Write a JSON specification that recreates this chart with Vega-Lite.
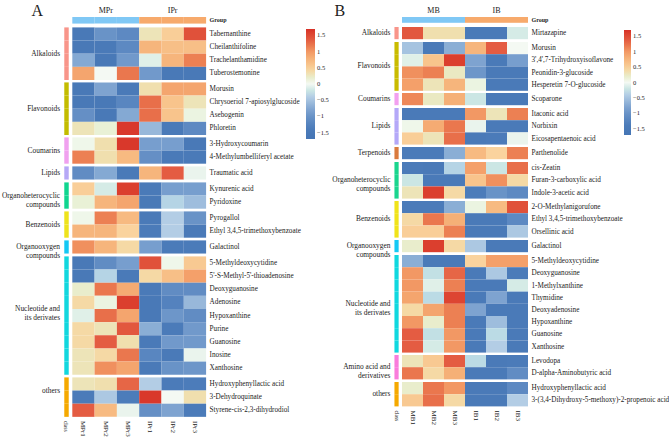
{
 "$schema": "https://vega.github.io/schema/vega-lite/v6.json",
 "padding": {"left": 1, "top": 2, "right": 0, "bottom": 0},
 "background": "white",
 "config": {"view": {"stroke": null}, "font": "Liberation Serif", "axis": {"labelFont": "Liberation Serif", "labelColor": "#222", "titleFont": "Liberation Serif", "titleColor": "#222"}, "legend": {"labelFont": "Liberation Serif", "labelColor": "#222"}, "title": {"font": "Liberation Serif", "color": "#222"}, "text": {"font": "Liberation Serif", "color": "#222"}},
 "datasets": {
  "ga": [{"s":"MPr1","g":"MPr"},{"s":"MPr2","g":"MPr"},{"s":"MPr3","g":"MPr"},{"s":"IPr1","g":"IPr"},{"s":"IPr2","g":"IPr"},{"s":"IPr3","g":"IPr"}],
  "gb": [{"s":"MB1","g":"MB"},{"s":"MB2","g":"MB"},{"s":"MB3","g":"MB"},{"s":"IB1","g":"IB"},{"s":"IB2","g":"IB"},{"s":"IB3","g":"IB"}],
  "a": [
{"c":"Alkaloids","m":"Tabernanthine","s":"MPr1","v":-1.5},{"c":"Alkaloids","m":"Tabernanthine","s":"MPr2","v":-1.0},{"c":"Alkaloids","m":"Tabernanthine","s":"MPr3","v":-1.15},{"c":"Alkaloids","m":"Tabernanthine","s":"IPr1","v":0.3},{"c":"Alkaloids","m":"Tabernanthine","s":"IPr2","v":0.5},{"c":"Alkaloids","m":"Tabernanthine","s":"IPr3","v":1.45},
{"c":"Alkaloids","m":"Cheilanthifoline","s":"MPr1","v":-1.5},{"c":"Alkaloids","m":"Cheilanthifoline","s":"MPr2","v":-1.45},{"c":"Alkaloids","m":"Cheilanthifoline","s":"MPr3","v":-1.15},{"c":"Alkaloids","m":"Cheilanthifoline","s":"IPr1","v":0.75},{"c":"Alkaloids","m":"Cheilanthifoline","s":"IPr2","v":0.65},{"c":"Alkaloids","m":"Cheilanthifoline","s":"IPr3","v":0.65},
{"c":"Alkaloids","m":"Trachelanthamidine","s":"MPr1","v":-0.75},{"c":"Alkaloids","m":"Trachelanthamidine","s":"MPr2","v":-1.5},{"c":"Alkaloids","m":"Trachelanthamidine","s":"MPr3","v":-0.9},{"c":"Alkaloids","m":"Trachelanthamidine","s":"IPr1","v":-0.1},{"c":"Alkaloids","m":"Trachelanthamidine","s":"IPr2","v":0.75},{"c":"Alkaloids","m":"Trachelanthamidine","s":"IPr3","v":1.15},
{"c":"Alkaloids","m":"Tuberostemonine","s":"MPr1","v":0.9},{"c":"Alkaloids","m":"Tuberostemonine","s":"MPr2","v":0.0},{"c":"Alkaloids","m":"Tuberostemonine","s":"MPr3","v":1.2},{"c":"Alkaloids","m":"Tuberostemonine","s":"IPr1","v":-0.9},{"c":"Alkaloids","m":"Tuberostemonine","s":"IPr2","v":-1.5},{"c":"Alkaloids","m":"Tuberostemonine","s":"IPr3","v":-1.5},
{"c":"Flavonoids","m":"Morusin","s":"MPr1","v":-1.5},{"c":"Flavonoids","m":"Morusin","s":"MPr2","v":-0.8},{"c":"Flavonoids","m":"Morusin","s":"MPr3","v":-1.45},{"c":"Flavonoids","m":"Morusin","s":"IPr1","v":0.35},{"c":"Flavonoids","m":"Morusin","s":"IPr2","v":0.9},{"c":"Flavonoids","m":"Morusin","s":"IPr3","v":0.9},
{"c":"Flavonoids","m":"Chrysoeriol 7-apiosylglucoside","s":"MPr1","v":-1.5},{"c":"Flavonoids","m":"Chrysoeriol 7-apiosylglucoside","s":"MPr2","v":-1.5},{"c":"Flavonoids","m":"Chrysoeriol 7-apiosylglucoside","s":"MPr3","v":-1.2},{"c":"Flavonoids","m":"Chrysoeriol 7-apiosylglucoside","s":"IPr1","v":1.25},{"c":"Flavonoids","m":"Chrysoeriol 7-apiosylglucoside","s":"IPr2","v":0.6},{"c":"Flavonoids","m":"Chrysoeriol 7-apiosylglucoside","s":"IPr3","v":0.3},
{"c":"Flavonoids","m":"Asebogenin","s":"MPr1","v":-1.05},{"c":"Flavonoids","m":"Asebogenin","s":"MPr2","v":-1.5},{"c":"Flavonoids","m":"Asebogenin","s":"MPr3","v":-0.75},{"c":"Flavonoids","m":"Asebogenin","s":"IPr1","v":1.25},{"c":"Flavonoids","m":"Asebogenin","s":"IPr2","v":0.6},{"c":"Flavonoids","m":"Asebogenin","s":"IPr3","v":0.1},
{"c":"Flavonoids","m":"Phloretin","s":"MPr1","v":0.3},{"c":"Flavonoids","m":"Phloretin","s":"MPr2","v":0.15},{"c":"Flavonoids","m":"Phloretin","s":"MPr3","v":1.65},{"c":"Flavonoids","m":"Phloretin","s":"IPr1","v":-0.6},{"c":"Flavonoids","m":"Phloretin","s":"IPr2","v":-1.45},{"c":"Flavonoids","m":"Phloretin","s":"IPr3","v":-1.15},
{"c":"Coumarins","m":"3-Hydroxycoumarin","s":"MPr1","v":0.05},{"c":"Coumarins","m":"3-Hydroxycoumarin","s":"MPr2","v":0.35},{"c":"Coumarins","m":"3-Hydroxycoumarin","s":"MPr3","v":1.65},{"c":"Coumarins","m":"3-Hydroxycoumarin","s":"IPr1","v":-0.85},{"c":"Coumarins","m":"3-Hydroxycoumarin","s":"IPr2","v":-0.85},{"c":"Coumarins","m":"3-Hydroxycoumarin","s":"IPr3","v":-1.5},
{"c":"Coumarins","m":"4-Methylumbelliferyl acetate","s":"MPr1","v":1.15},{"c":"Coumarins","m":"4-Methylumbelliferyl acetate","s":"MPr2","v":0.35},{"c":"Coumarins","m":"4-Methylumbelliferyl acetate","s":"MPr3","v":0.7},{"c":"Coumarins","m":"4-Methylumbelliferyl acetate","s":"IPr1","v":-1.05},{"c":"Coumarins","m":"4-Methylumbelliferyl acetate","s":"IPr2","v":-1.45},{"c":"Coumarins","m":"4-Methylumbelliferyl acetate","s":"IPr3","v":-1.45},
{"c":"Lipids","m":"Traumatic acid","s":"MPr1","v":-1.1},{"c":"Lipids","m":"Traumatic acid","s":"MPr2","v":-0.75},{"c":"Lipids","m":"Traumatic acid","s":"MPr3","v":-1.45},{"c":"Lipids","m":"Traumatic acid","s":"IPr1","v":0.75},{"c":"Lipids","m":"Traumatic acid","s":"IPr2","v":1.35},{"c":"Lipids","m":"Traumatic acid","s":"IPr3","v":-0.05},
{"c":"Organoheterocyclic|compounds","m":"Kynurenic acid","s":"MPr1","v":0.5},{"c":"Organoheterocyclic|compounds","m":"Kynurenic acid","s":"MPr2","v":-0.15},{"c":"Organoheterocyclic|compounds","m":"Kynurenic acid","s":"MPr3","v":1.6},{"c":"Organoheterocyclic|compounds","m":"Kynurenic acid","s":"IPr1","v":-1.45},{"c":"Organoheterocyclic|compounds","m":"Kynurenic acid","s":"IPr2","v":-0.85},{"c":"Organoheterocyclic|compounds","m":"Kynurenic acid","s":"IPr3","v":-0.85},
{"c":"Organoheterocyclic|compounds","m":"Pyridoxine","s":"MPr1","v":0.15},{"c":"Organoheterocyclic|compounds","m":"Pyridoxine","s":"MPr2","v":0.75},{"c":"Organoheterocyclic|compounds","m":"Pyridoxine","s":"MPr3","v":0.9},{"c":"Organoheterocyclic|compounds","m":"Pyridoxine","s":"IPr1","v":-1.5},{"c":"Organoheterocyclic|compounds","m":"Pyridoxine","s":"IPr2","v":-0.35},{"c":"Organoheterocyclic|compounds","m":"Pyridoxine","s":"IPr3","v":-0.55},
{"c":"Benzenoids","m":"Pyrogallol","s":"MPr1","v":0.05},{"c":"Benzenoids","m":"Pyrogallol","s":"MPr2","v":1.15},{"c":"Benzenoids","m":"Pyrogallol","s":"MPr3","v":0.7},{"c":"Benzenoids","m":"Pyrogallol","s":"IPr1","v":-1.45},{"c":"Benzenoids","m":"Pyrogallol","s":"IPr2","v":-0.4},{"c":"Benzenoids","m":"Pyrogallol","s":"IPr3","v":-1.0},
{"c":"Benzenoids","m":"Ethyl 3,4,5-trimethoxybenzoate","s":"MPr1","v":0.75},{"c":"Benzenoids","m":"Ethyl 3,4,5-trimethoxybenzoate","s":"MPr2","v":0.75},{"c":"Benzenoids","m":"Ethyl 3,4,5-trimethoxybenzoate","s":"MPr3","v":0.45},{"c":"Benzenoids","m":"Ethyl 3,4,5-trimethoxybenzoate","s":"IPr1","v":-1.4},{"c":"Benzenoids","m":"Ethyl 3,4,5-trimethoxybenzoate","s":"IPr2","v":-0.4},{"c":"Benzenoids","m":"Ethyl 3,4,5-trimethoxybenzoate","s":"IPr3","v":-1.45},
{"c":"Organooxygen|compounds","m":"Galactinol","s":"MPr1","v":1.05},{"c":"Organooxygen|compounds","m":"Galactinol","s":"MPr2","v":0.75},{"c":"Organooxygen|compounds","m":"Galactinol","s":"MPr3","v":0.4},{"c":"Organooxygen|compounds","m":"Galactinol","s":"IPr1","v":-0.85},{"c":"Organooxygen|compounds","m":"Galactinol","s":"IPr2","v":-1.4},{"c":"Organooxygen|compounds","m":"Galactinol","s":"IPr3","v":-1.4},
{"c":"Nucleotide and|its derivates","m":"5-Methyldeoxycytidine","s":"MPr1","v":-1.5},{"c":"Nucleotide and|its derivates","m":"5-Methyldeoxycytidine","s":"MPr2","v":-1.1},{"c":"Nucleotide and|its derivates","m":"5-Methyldeoxycytidine","s":"MPr3","v":-0.85},{"c":"Nucleotide and|its derivates","m":"5-Methyldeoxycytidine","s":"IPr1","v":1.45},{"c":"Nucleotide and|its derivates","m":"5-Methyldeoxycytidine","s":"IPr2","v":0.05},{"c":"Nucleotide and|its derivates","m":"5-Methyldeoxycytidine","s":"IPr3","v":0.55},
{"c":"Nucleotide and|its derivates","m":"5'-S-Methyl-5'-thioadenosine","s":"MPr1","v":-1.5},{"c":"Nucleotide and|its derivates","m":"5'-S-Methyl-5'-thioadenosine","s":"MPr2","v":-0.35},{"c":"Nucleotide and|its derivates","m":"5'-S-Methyl-5'-thioadenosine","s":"MPr3","v":-1.45},{"c":"Nucleotide and|its derivates","m":"5'-S-Methyl-5'-thioadenosine","s":"IPr1","v":0.4},{"c":"Nucleotide and|its derivates","m":"5'-S-Methyl-5'-thioadenosine","s":"IPr2","v":0.65},{"c":"Nucleotide and|its derivates","m":"5'-S-Methyl-5'-thioadenosine","s":"IPr3","v":0.95},
{"c":"Nucleotide and|its derivates","m":"Deoxyguanosine","s":"MPr1","v":0.2},{"c":"Nucleotide and|its derivates","m":"Deoxyguanosine","s":"MPr2","v":1.2},{"c":"Nucleotide and|its derivates","m":"Deoxyguanosine","s":"MPr3","v":0.85},{"c":"Nucleotide and|its derivates","m":"Deoxyguanosine","s":"IPr1","v":-1.45},{"c":"Nucleotide and|its derivates","m":"Deoxyguanosine","s":"IPr2","v":-1.1},{"c":"Nucleotide and|its derivates","m":"Deoxyguanosine","s":"IPr3","v":-1.1},
{"c":"Nucleotide and|its derivates","m":"Adenosine","s":"MPr1","v":0.4},{"c":"Nucleotide and|its derivates","m":"Adenosine","s":"MPr2","v":0.1},{"c":"Nucleotide and|its derivates","m":"Adenosine","s":"MPr3","v":1.6},{"c":"Nucleotide and|its derivates","m":"Adenosine","s":"IPr1","v":-1.5},{"c":"Nucleotide and|its derivates","m":"Adenosine","s":"IPr2","v":-1.25},{"c":"Nucleotide and|its derivates","m":"Adenosine","s":"IPr3","v":-0.6},
{"c":"Nucleotide and|its derivates","m":"Hypoxanthine","s":"MPr1","v":-0.1},{"c":"Nucleotide and|its derivates","m":"Hypoxanthine","s":"MPr2","v":1.25},{"c":"Nucleotide and|its derivates","m":"Hypoxanthine","s":"MPr3","v":0.9},{"c":"Nucleotide and|its derivates","m":"Hypoxanthine","s":"IPr1","v":-1.5},{"c":"Nucleotide and|its derivates","m":"Hypoxanthine","s":"IPr2","v":-0.95},{"c":"Nucleotide and|its derivates","m":"Hypoxanthine","s":"IPr3","v":-1.1},
{"c":"Nucleotide and|its derivates","m":"Purine","s":"MPr1","v":0.4},{"c":"Nucleotide and|its derivates","m":"Purine","s":"MPr2","v":0.3},{"c":"Nucleotide and|its derivates","m":"Purine","s":"MPr3","v":1.4},{"c":"Nucleotide and|its derivates","m":"Purine","s":"IPr1","v":-0.7},{"c":"Nucleotide and|its derivates","m":"Purine","s":"IPr2","v":-1.4},{"c":"Nucleotide and|its derivates","m":"Purine","s":"IPr3","v":-0.9},
{"c":"Nucleotide and|its derivates","m":"Guanosine","s":"MPr1","v":0.4},{"c":"Nucleotide and|its derivates","m":"Guanosine","s":"MPr2","v":1.35},{"c":"Nucleotide and|its derivates","m":"Guanosine","s":"MPr3","v":0.35},{"c":"Nucleotide and|its derivates","m":"Guanosine","s":"IPr1","v":-1.45},{"c":"Nucleotide and|its derivates","m":"Guanosine","s":"IPr2","v":-0.9},{"c":"Nucleotide and|its derivates","m":"Guanosine","s":"IPr3","v":-0.9},
{"c":"Nucleotide and|its derivates","m":"Inosine","s":"MPr1","v":0.3},{"c":"Nucleotide and|its derivates","m":"Inosine","s":"MPr2","v":0.4},{"c":"Nucleotide and|its derivates","m":"Inosine","s":"MPr3","v":1.2},{"c":"Nucleotide and|its derivates","m":"Inosine","s":"IPr1","v":-1.2},{"c":"Nucleotide and|its derivates","m":"Inosine","s":"IPr2","v":-1.45},{"c":"Nucleotide and|its derivates","m":"Inosine","s":"IPr3","v":-0.05},
{"c":"Nucleotide and|its derivates","m":"Xanthosine","s":"MPr1","v":0.3},{"c":"Nucleotide and|its derivates","m":"Xanthosine","s":"MPr2","v":1.05},{"c":"Nucleotide and|its derivates","m":"Xanthosine","s":"MPr3","v":0.9},{"c":"Nucleotide and|its derivates","m":"Xanthosine","s":"IPr1","v":-1.45},{"c":"Nucleotide and|its derivates","m":"Xanthosine","s":"IPr2","v":-1.0},{"c":"Nucleotide and|its derivates","m":"Xanthosine","s":"IPr3","v":-0.95},
{"c":"others","m":"Hydroxyphenyllactic acid","s":"MPr1","v":0.3},{"c":"others","m":"Hydroxyphenyllactic acid","s":"MPr2","v":0.35},{"c":"others","m":"Hydroxyphenyllactic acid","s":"MPr3","v":1.3},{"c":"others","m":"Hydroxyphenyllactic acid","s":"IPr1","v":-0.4},{"c":"others","m":"Hydroxyphenyllactic acid","s":"IPr2","v":-1.4},{"c":"others","m":"Hydroxyphenyllactic acid","s":"IPr3","v":-1.35},
{"c":"others","m":"3-Dehydroquinate","s":"MPr1","v":-1.4},{"c":"others","m":"3-Dehydroquinate","s":"MPr2","v":-0.45},{"c":"others","m":"3-Dehydroquinate","s":"MPr3","v":-1.35},{"c":"others","m":"3-Dehydroquinate","s":"IPr1","v":1.65},{"c":"others","m":"3-Dehydroquinate","s":"IPr2","v":0.0},{"c":"others","m":"3-Dehydroquinate","s":"IPr3","v":0.35},
{"c":"others","m":"Styrene-cis-2,3-dihydrodiol","s":"MPr1","v":1.35},{"c":"others","m":"Styrene-cis-2,3-dihydrodiol","s":"MPr2","v":0.7},{"c":"others","m":"Styrene-cis-2,3-dihydrodiol","s":"MPr3","v":-0.05},{"c":"others","m":"Styrene-cis-2,3-dihydrodiol","s":"IPr1","v":-1.05},{"c":"others","m":"Styrene-cis-2,3-dihydrodiol","s":"IPr2","v":-0.8},{"c":"others","m":"Styrene-cis-2,3-dihydrodiol","s":"IPr3","v":-1.4}
  ],
  "b": [
{"c":"Alkaloids","m":"Mirtazapine","s":"MB1","v":1.4},{"c":"Alkaloids","m":"Mirtazapine","s":"MB2","v":0.35},{"c":"Alkaloids","m":"Mirtazapine","s":"MB3","v":0.35},{"c":"Alkaloids","m":"Mirtazapine","s":"IB1","v":-1.45},{"c":"Alkaloids","m":"Mirtazapine","s":"IB2","v":-1.45},{"c":"Alkaloids","m":"Mirtazapine","s":"IB3","v":-0.15},
{"c":"Flavonoids","m":"Morusin","s":"MB1","v":-0.5},{"c":"Flavonoids","m":"Morusin","s":"MB2","v":-1.45},{"c":"Flavonoids","m":"Morusin","s":"MB3","v":-0.7},{"c":"Flavonoids","m":"Morusin","s":"IB1","v":0.75},{"c":"Flavonoids","m":"Morusin","s":"IB2","v":1.35},{"c":"Flavonoids","m":"Morusin","s":"IB3","v":0.0},
{"c":"Flavonoids","m":"3',4',7-Trihydroxyisoflavone","s":"MB1","v":-0.1},{"c":"Flavonoids","m":"3',4',7-Trihydroxyisoflavone","s":"MB2","v":0.6},{"c":"Flavonoids","m":"3',4',7-Trihydroxyisoflavone","s":"MB3","v":1.6},{"c":"Flavonoids","m":"3',4',7-Trihydroxyisoflavone","s":"IB1","v":-0.8},{"c":"Flavonoids","m":"3',4',7-Trihydroxyisoflavone","s":"IB2","v":-1.45},{"c":"Flavonoids","m":"3',4',7-Trihydroxyisoflavone","s":"IB3","v":-0.85},
{"c":"Flavonoids","m":"Peonidin-3-glucoside","s":"MB1","v":1.05},{"c":"Flavonoids","m":"Peonidin-3-glucoside","s":"MB2","v":1.15},{"c":"Flavonoids","m":"Peonidin-3-glucoside","s":"MB3","v":0.25},{"c":"Flavonoids","m":"Peonidin-3-glucoside","s":"IB1","v":-0.95},{"c":"Flavonoids","m":"Peonidin-3-glucoside","s":"IB2","v":-1.45},{"c":"Flavonoids","m":"Peonidin-3-glucoside","s":"IB3","v":-1.45},
{"c":"Flavonoids","m":"Hesperetin 7-O-glucoside","s":"MB1","v":0.95},{"c":"Flavonoids","m":"Hesperetin 7-O-glucoside","s":"MB2","v":0.3},{"c":"Flavonoids","m":"Hesperetin 7-O-glucoside","s":"MB3","v":0.75},{"c":"Flavonoids","m":"Hesperetin 7-O-glucoside","s":"IB1","v":0.1},{"c":"Flavonoids","m":"Hesperetin 7-O-glucoside","s":"IB2","v":-1.45},{"c":"Flavonoids","m":"Hesperetin 7-O-glucoside","s":"IB3","v":-1.45},
{"c":"Coumarins","m":"Scoparone","s":"MB1","v":1.1},{"c":"Coumarins","m":"Scoparone","s":"MB2","v":0.25},{"c":"Coumarins","m":"Scoparone","s":"MB3","v":0.8},{"c":"Coumarins","m":"Scoparone","s":"IB1","v":-0.2},{"c":"Coumarins","m":"Scoparone","s":"IB2","v":-1.45},{"c":"Coumarins","m":"Scoparone","s":"IB3","v":-1.45},
{"c":"Lipids","m":"Itaconic acid","s":"MB1","v":-1.45},{"c":"Lipids","m":"Itaconic acid","s":"MB2","v":-1.45},{"c":"Lipids","m":"Itaconic acid","s":"MB3","v":-1.45},{"c":"Lipids","m":"Itaconic acid","s":"IB1","v":1.0},{"c":"Lipids","m":"Itaconic acid","s":"IB2","v":0.3},{"c":"Lipids","m":"Itaconic acid","s":"IB3","v":1.15},
{"c":"Lipids","m":"Norbixin","s":"MB1","v":0.05},{"c":"Lipids","m":"Norbixin","s":"MB2","v":0.85},{"c":"Lipids","m":"Norbixin","s":"MB3","v":1.2},{"c":"Lipids","m":"Norbixin","s":"IB1","v":-0.05},{"c":"Lipids","m":"Norbixin","s":"IB2","v":-1.45},{"c":"Lipids","m":"Norbixin","s":"IB3","v":-1.45},
{"c":"Lipids","m":"Eicosapentaenoic acid","s":"MB1","v":0.5},{"c":"Lipids","m":"Eicosapentaenoic acid","s":"MB2","v":0.3},{"c":"Lipids","m":"Eicosapentaenoic acid","s":"MB3","v":1.25},{"c":"Lipids","m":"Eicosapentaenoic acid","s":"IB1","v":-1.45},{"c":"Lipids","m":"Eicosapentaenoic acid","s":"IB2","v":-1.4},{"c":"Lipids","m":"Eicosapentaenoic acid","s":"IB3","v":-0.05},
{"c":"Terpenoids","m":"Parthenolide","s":"MB1","v":-1.4},{"c":"Terpenoids","m":"Parthenolide","s":"MB2","v":-1.4},{"c":"Terpenoids","m":"Parthenolide","s":"MB3","v":-0.7},{"c":"Terpenoids","m":"Parthenolide","s":"IB1","v":0.7},{"c":"Terpenoids","m":"Parthenolide","s":"IB2","v":0.45},{"c":"Terpenoids","m":"Parthenolide","s":"IB3","v":1.15},
{"c":"Organoheterocyclic|compounds","m":"cis-Zeatin","s":"MB1","v":-1.4},{"c":"Organoheterocyclic|compounds","m":"cis-Zeatin","s":"MB2","v":-1.45},{"c":"Organoheterocyclic|compounds","m":"cis-Zeatin","s":"MB3","v":-0.35},{"c":"Organoheterocyclic|compounds","m":"cis-Zeatin","s":"IB1","v":0.95},{"c":"Organoheterocyclic|compounds","m":"cis-Zeatin","s":"IB2","v":-0.2},{"c":"Organoheterocyclic|compounds","m":"cis-Zeatin","s":"IB3","v":1.25},
{"c":"Organoheterocyclic|compounds","m":"Furan-3-carboxylic acid","s":"MB1","v":-0.2},{"c":"Organoheterocyclic|compounds","m":"Furan-3-carboxylic acid","s":"MB2","v":-1.45},{"c":"Organoheterocyclic|compounds","m":"Furan-3-carboxylic acid","s":"MB3","v":-1.45},{"c":"Organoheterocyclic|compounds","m":"Furan-3-carboxylic acid","s":"IB1","v":0.6},{"c":"Organoheterocyclic|compounds","m":"Furan-3-carboxylic acid","s":"IB2","v":1.05},{"c":"Organoheterocyclic|compounds","m":"Furan-3-carboxylic acid","s":"IB3","v":0.4},
{"c":"Organoheterocyclic|compounds","m":"Indole-3-acetic acid","s":"MB1","v":0.3},{"c":"Organoheterocyclic|compounds","m":"Indole-3-acetic acid","s":"MB2","v":1.6},{"c":"Organoheterocyclic|compounds","m":"Indole-3-acetic acid","s":"MB3","v":0.4},{"c":"Organoheterocyclic|compounds","m":"Indole-3-acetic acid","s":"IB1","v":-1.35},{"c":"Organoheterocyclic|compounds","m":"Indole-3-acetic acid","s":"IB2","v":-1.0},{"c":"Organoheterocyclic|compounds","m":"Indole-3-acetic acid","s":"IB3","v":-1.15},
{"c":"Benzenoids","m":"2-O-Methylanigorufone","s":"MB1","v":-1.4},{"c":"Benzenoids","m":"2-O-Methylanigorufone","s":"MB2","v":-1.4},{"c":"Benzenoids","m":"2-O-Methylanigorufone","s":"MB3","v":-0.7},{"c":"Benzenoids","m":"2-O-Methylanigorufone","s":"IB1","v":0.1},{"c":"Benzenoids","m":"2-O-Methylanigorufone","s":"IB2","v":0.7},{"c":"Benzenoids","m":"2-O-Methylanigorufone","s":"IB3","v":1.45},
{"c":"Benzenoids","m":"Ethyl 3,4,5-trimethoxybenzoate","s":"MB1","v":0.4},{"c":"Benzenoids","m":"Ethyl 3,4,5-trimethoxybenzoate","s":"MB2","v":1.2},{"c":"Benzenoids","m":"Ethyl 3,4,5-trimethoxybenzoate","s":"MB3","v":0.8},{"c":"Benzenoids","m":"Ethyl 3,4,5-trimethoxybenzoate","s":"IB1","v":-1.45},{"c":"Benzenoids","m":"Ethyl 3,4,5-trimethoxybenzoate","s":"IB2","v":-1.45},{"c":"Benzenoids","m":"Ethyl 3,4,5-trimethoxybenzoate","s":"IB3","v":-1.15},
{"c":"Benzenoids","m":"Orsellinic acid","s":"MB1","v":0.5},{"c":"Benzenoids","m":"Orsellinic acid","s":"MB2","v":0.5},{"c":"Benzenoids","m":"Orsellinic acid","s":"MB3","v":1.15},{"c":"Benzenoids","m":"Orsellinic acid","s":"IB1","v":-1.45},{"c":"Benzenoids","m":"Orsellinic acid","s":"IB2","v":-1.45},{"c":"Benzenoids","m":"Orsellinic acid","s":"IB3","v":-0.45},
{"c":"Organooxygen|compounds","m":"Galactinol","s":"MB1","v":0.2},{"c":"Organooxygen|compounds","m":"Galactinol","s":"MB2","v":1.6},{"c":"Organooxygen|compounds","m":"Galactinol","s":"MB3","v":0.4},{"c":"Organooxygen|compounds","m":"Galactinol","s":"IB1","v":-0.45},{"c":"Organooxygen|compounds","m":"Galactinol","s":"IB2","v":-1.45},{"c":"Organooxygen|compounds","m":"Galactinol","s":"IB3","v":-1.45},
{"c":"Nucleotide and|its derivates","m":"5-Methyldeoxycytidine","s":"MB1","v":-0.7},{"c":"Nucleotide and|its derivates","m":"5-Methyldeoxycytidine","s":"MB2","v":-1.45},{"c":"Nucleotide and|its derivates","m":"5-Methyldeoxycytidine","s":"MB3","v":-1.45},{"c":"Nucleotide and|its derivates","m":"5-Methyldeoxycytidine","s":"IB1","v":0.45},{"c":"Nucleotide and|its derivates","m":"5-Methyldeoxycytidine","s":"IB2","v":0.95},{"c":"Nucleotide and|its derivates","m":"5-Methyldeoxycytidine","s":"IB3","v":0.95},
{"c":"Nucleotide and|its derivates","m":"Deoxyguanosine","s":"MB1","v":1.0},{"c":"Nucleotide and|its derivates","m":"Deoxyguanosine","s":"MB2","v":-0.25},{"c":"Nucleotide and|its derivates","m":"Deoxyguanosine","s":"MB3","v":1.3},{"c":"Nucleotide and|its derivates","m":"Deoxyguanosine","s":"IB1","v":-1.45},{"c":"Nucleotide and|its derivates","m":"Deoxyguanosine","s":"IB2","v":-0.45},{"c":"Nucleotide and|its derivates","m":"Deoxyguanosine","s":"IB3","v":-1.4},
{"c":"Nucleotide and|its derivates","m":"1-Methylxanthine","s":"MB1","v":1.0},{"c":"Nucleotide and|its derivates","m":"1-Methylxanthine","s":"MB2","v":-0.1},{"c":"Nucleotide and|its derivates","m":"1-Methylxanthine","s":"MB3","v":1.15},{"c":"Nucleotide and|its derivates","m":"1-Methylxanthine","s":"IB1","v":-1.45},{"c":"Nucleotide and|its derivates","m":"1-Methylxanthine","s":"IB2","v":-1.45},{"c":"Nucleotide and|its derivates","m":"1-Methylxanthine","s":"IB3","v":-0.15},
{"c":"Nucleotide and|its derivates","m":"Thymidine","s":"MB1","v":0.9},{"c":"Nucleotide and|its derivates","m":"Thymidine","s":"MB2","v":-0.3},{"c":"Nucleotide and|its derivates","m":"Thymidine","s":"MB3","v":1.55},{"c":"Nucleotide and|its derivates","m":"Thymidine","s":"IB1","v":-1.45},{"c":"Nucleotide and|its derivates","m":"Thymidine","s":"IB2","v":-0.8},{"c":"Nucleotide and|its derivates","m":"Thymidine","s":"IB3","v":-1.45},
{"c":"Nucleotide and|its derivates","m":"Deoxyadenosine","s":"MB1","v":0.4},{"c":"Nucleotide and|its derivates","m":"Deoxyadenosine","s":"MB2","v":0.9},{"c":"Nucleotide and|its derivates","m":"Deoxyadenosine","s":"MB3","v":1.15},{"c":"Nucleotide and|its derivates","m":"Deoxyadenosine","s":"IB1","v":-0.8},{"c":"Nucleotide and|its derivates","m":"Deoxyadenosine","s":"IB2","v":-1.45},{"c":"Nucleotide and|its derivates","m":"Deoxyadenosine","s":"IB3","v":-1.45},
{"c":"Nucleotide and|its derivates","m":"Hypoxanthine","s":"MB1","v":1.0},{"c":"Nucleotide and|its derivates","m":"Hypoxanthine","s":"MB2","v":0.2},{"c":"Nucleotide and|its derivates","m":"Hypoxanthine","s":"MB3","v":1.15},{"c":"Nucleotide and|its derivates","m":"Hypoxanthine","s":"IB1","v":-1.45},{"c":"Nucleotide and|its derivates","m":"Hypoxanthine","s":"IB2","v":-0.55},{"c":"Nucleotide and|its derivates","m":"Hypoxanthine","s":"IB3","v":-1.45},
{"c":"Nucleotide and|its derivates","m":"Guanosine","s":"MB1","v":1.35},{"c":"Nucleotide and|its derivates","m":"Guanosine","s":"MB2","v":-0.25},{"c":"Nucleotide and|its derivates","m":"Guanosine","s":"MB3","v":1.0},{"c":"Nucleotide and|its derivates","m":"Guanosine","s":"IB1","v":-1.45},{"c":"Nucleotide and|its derivates","m":"Guanosine","s":"IB2","v":-0.3},{"c":"Nucleotide and|its derivates","m":"Guanosine","s":"IB3","v":-1.45},
{"c":"Nucleotide and|its derivates","m":"Xanthosine","s":"MB1","v":1.35},{"c":"Nucleotide and|its derivates","m":"Xanthosine","s":"MB2","v":-0.15},{"c":"Nucleotide and|its derivates","m":"Xanthosine","s":"MB3","v":1.0},{"c":"Nucleotide and|its derivates","m":"Xanthosine","s":"IB1","v":-1.45},{"c":"Nucleotide and|its derivates","m":"Xanthosine","s":"IB2","v":-0.4},{"c":"Nucleotide and|its derivates","m":"Xanthosine","s":"IB3","v":-1.45},
{"c":"Amino acid and|derivatives","m":"Levodopa","s":"MB1","v":0.3},{"c":"Amino acid and|derivatives","m":"Levodopa","s":"MB2","v":0.55},{"c":"Amino acid and|derivatives","m":"Levodopa","s":"MB3","v":1.35},{"c":"Amino acid and|derivatives","m":"Levodopa","s":"IB1","v":-0.3},{"c":"Amino acid and|derivatives","m":"Levodopa","s":"IB2","v":-1.45},{"c":"Amino acid and|derivatives","m":"Levodopa","s":"IB3","v":-1.4},
{"c":"Amino acid and|derivatives","m":"D-alpha-Aminobutyric acid","s":"MB1","v":1.2},{"c":"Amino acid and|derivatives","m":"D-alpha-Aminobutyric acid","s":"MB2","v":0.4},{"c":"Amino acid and|derivatives","m":"D-alpha-Aminobutyric acid","s":"MB3","v":0.8},{"c":"Amino acid and|derivatives","m":"D-alpha-Aminobutyric acid","s":"IB1","v":-1.45},{"c":"Amino acid and|derivatives","m":"D-alpha-Aminobutyric acid","s":"IB2","v":-1.45},{"c":"Amino acid and|derivatives","m":"D-alpha-Aminobutyric acid","s":"IB3","v":-1.1},
{"c":"others","m":"Hydroxyphenyllactic acid","s":"MB1","v":0.2},{"c":"others","m":"Hydroxyphenyllactic acid","s":"MB2","v":1.2},{"c":"others","m":"Hydroxyphenyllactic acid","s":"MB3","v":1.0},{"c":"others","m":"Hydroxyphenyllactic acid","s":"IB1","v":-1.45},{"c":"others","m":"Hydroxyphenyllactic acid","s":"IB2","v":-1.45},{"c":"others","m":"Hydroxyphenyllactic acid","s":"IB3","v":-1.15},
{"c":"others","m":"3-(3,4-Dihydroxy-5-methoxy)-2-propenoic acid","s":"MB1","v":0.55},{"c":"others","m":"3-(3,4-Dihydroxy-5-methoxy)-2-propenoic acid","s":"MB2","v":1.25},{"c":"others","m":"3-(3,4-Dihydroxy-5-methoxy)-2-propenoic acid","s":"MB3","v":0.4},{"c":"others","m":"3-(3,4-Dihydroxy-5-methoxy)-2-propenoic acid","s":"IB1","v":-1.45},{"c":"others","m":"3-(3,4-Dihydroxy-5-methoxy)-2-propenoic acid","s":"IB2","v":-1.45},{"c":"others","m":"3-(3,4-Dihydroxy-5-methoxy)-2-propenoic acid","s":"IB3","v":-0.4}
  ]
 },
 "spacing": 3,
 "resolve": {"scale": {"color": "independent", "fill": "independent"}, "legend": {"color": "independent"}},
 "hconcat": [
  {
   "spacing": 3.4,
   "resolve": {"scale": {"fill": "independent"}},
   "vconcat": [
    {
     "data": {"name": "ga"},
     "width": {"step": 22.3}, "height": 6.6,
     "mark": {"type": "rect"},
     "encoding": {
      "x": {"field": "s", "type": "nominal", "scale": {"type": "band", "domain": ["class","MPr1","MPr2","MPr3","IPr1","IPr2","IPr3"]}, "axis": {"orient": "top", "title": "A", "titleX": -19, "titleY": -2, "titleAlign": "left", "titleBaseline": "alphabetic", "titleAngle": 0, "titleFontSize": 16, "titleFontWeight": "normal", "ticks": false, "domain": false, "labelAngle": 0, "labelPadding": 3, "labelFontSize": 8, "labelExpr": "datum.value == 'MPr2' ? 'MPr' : datum.value == 'IPr2' ? 'IPr' : ''"}},
      "y": {"datum": "Group", "type": "nominal", "axis": {"orient": "right", "title": null, "ticks": false, "domain": false, "labelPadding": 3, "labelFontSize": 6, "labelFontWeight": "bold"}},
      "fill": {"field": "g", "type": "nominal", "scale": {"domain": ["MPr","IPr"], "range": ["#80c8f5","#f7aa6c"]}, "legend": null}
     }
    },
    {
     "data": {"name": "a"},
     "facet": {"row": {"field": "c", "type": "nominal", "sort": ["Alkaloids","Flavonoids","Coumarins","Lipids","Organoheterocyclic|compounds","Benzenoids","Organooxygen|compounds","Nucleotide and|its derivates","others"], "title": null, "header": {"labels": false}}},
     "spacing": {"row": 2},
     "bounds": "flush",
     "resolve": {"scale": {"y": "independent"}},
     "spec": {
      "width": {"step": 22.3}, "height": {"step": 13.15},
      "layer": [
       {
        "mark": {"type": "rect"},
        "encoding": {
         "x": {"field": "s", "type": "nominal", "scale": {"type": "band", "domain": ["class","MPr1","MPr2","MPr3","IPr1","IPr2","IPr3"]}, "axis": {"title": null, "ticks": false, "domain": false, "labelAngle": 90, "labelPadding": 3, "labelFontSize": {"condition": {"test": "datum.value === 'class'", "value": 5.5}, "value": 7}, "labelOffset": {"condition": {"test": "datum.value === 'class'", "value": 5}, "value": 0}}},
         "y": {"field": "m", "type": "nominal", "sort": null, "axis": {"orient": "right", "title": null, "ticks": false, "domain": false, "labelPadding": 3, "labelFontSize": 7.2, "labelLimit": 400}},
         "color": {"field": "v", "type": "quantitative", "scale": {"domain": [-1.7,-1.35,-0.9,-0.4,0,0.45,0.95,1.35,1.7], "range": ["#4575b4","#4c7cba","#7199cb","#b3cde5","#f4f9f3","#fad39e","#f4a06a","#e45c42","#d73027"]}, "legend": {"orient": "none", "legendX": 256, "legendY": 12, "title": null, "direction": "vertical", "gradientLength": 110, "gradientThickness": 9, "values": [-1.5,-1,-0.5,0,0.5,1,1.5], "format": ".1~f", "labelFontSize": 6.5, "labelOverlap": false, "gradientStrokeWidth": 0}}
        }
       },
       {
        "transform": [{"filter": "datum.s == 'MPr1'"}],
        "mark": {"type": "rect"},
        "encoding": {
         "x": {"datum": "class", "bandPosition": 0.64},
         "x2": {"datum": "class", "bandPosition": 0.84},
         "y": {"field": "m", "type": "nominal", "sort": null},
         "fill": {"field": "c", "type": "nominal", "scale": {"domain": ["Alkaloids","Flavonoids","Coumarins","Lipids","Organoheterocyclic|compounds","Benzenoids","Organooxygen|compounds","Nucleotide and|its derivates","others"], "range": ["#f8958a","#c3bc00","#f0a1ef","#b5a8f6","#10d68f","#eee31c","#14c8f4","#12d7de","#f5a900"]}, "legend": null}
        }
       },
       {
        "transform": [{"filter": "datum.s == 'MPr1' && indexof(['Trachelanthamidine','Asebogenin','4-Methylumbelliferyl acetate','Pyridoxine','Ethyl 3,4,5-trimethoxybenzoate','Hypoxanthine','3-Dehydroquinate'], datum.m) >= 0"}],
        "mark": {"type": "text", "align": "right", "baseline": "middle", "fontSize": 7.4, "lineBreak": "|", "lineHeight": 9},
        "encoding": {
         "x": {"datum": "class", "bandPosition": 0.45},
         "y": {"field": "m", "type": "nominal", "sort": null, "bandPosition": 0},
         "text": {"field": "c", "type": "nominal"}
        }
       },
       {
        "transform": [{"filter": "datum.s == 'MPr1' && indexof(['Traumatic acid','Galactinol'], datum.m) >= 0"}],
        "mark": {"type": "text", "align": "right", "baseline": "middle", "fontSize": 7.4, "lineBreak": "|", "lineHeight": 9},
        "encoding": {
         "x": {"datum": "class", "bandPosition": 0.45},
         "y": {"field": "m", "type": "nominal", "sort": null, "bandPosition": 0.5},
         "text": {"field": "c", "type": "nominal"}
        }
       }
      ]
     }
    }
   ]
  },
  {
   "spacing": 4,
   "resolve": {"scale": {"fill": "independent"}},
   "vconcat": [
    {
     "data": {"name": "gb"},
     "width": {"step": 21}, "height": 5.8,
     "mark": {"type": "rect"},
     "encoding": {
      "x": {"field": "s", "type": "nominal", "scale": {"type": "band", "domain": ["class","MB1","MB2","MB3","IB1","IB2","IB3"]}, "axis": {"orient": "top", "title": "B", "titleX": -47, "titleY": -2, "titleAlign": "left", "titleBaseline": "alphabetic", "titleAngle": 0, "titleFontSize": 16, "titleFontWeight": "normal", "ticks": false, "domain": false, "labelAngle": 0, "labelPadding": 3, "labelFontSize": 8, "labelExpr": "datum.value == 'MB2' ? 'MB' : datum.value == 'IB2' ? 'IB' : ''"}},
      "y": {"datum": "Group", "type": "nominal", "axis": {"orient": "right", "title": null, "ticks": false, "domain": false, "labelPadding": 3, "labelFontSize": 6, "labelFontWeight": "bold"}},
      "fill": {"field": "g", "type": "nominal", "scale": {"domain": ["MB","IB"], "range": ["#80c8f5","#f7aa6c"]}, "legend": null}
     }
    },
    {
     "data": {"name": "b"},
     "facet": {"row": {"field": "c", "type": "nominal", "sort": ["Alkaloids","Flavonoids","Coumarins","Lipids","Terpenoids","Organoheterocyclic|compounds","Benzenoids","Organooxygen|compounds","Nucleotide and|its derivates","Amino acid and|derivatives","others"], "title": null, "header": {"labels": false}}},
     "spacing": {"row": 2},
     "bounds": "flush",
     "resolve": {"scale": {"y": "independent"}},
     "spec": {
      "width": {"step": 21}, "height": {"step": 12.2},
      "layer": [
       {
        "mark": {"type": "rect"},
        "encoding": {
         "x": {"field": "s", "type": "nominal", "scale": {"type": "band", "domain": ["class","MB1","MB2","MB3","IB1","IB2","IB3"]}, "axis": {"title": null, "ticks": false, "domain": false, "labelAngle": 90, "labelPadding": 3, "labelFontSize": {"condition": {"test": "datum.value === 'class'", "value": 5.5}, "value": 7}, "labelOffset": {"condition": {"test": "datum.value === 'class'", "value": 5}, "value": 0}}},
         "y": {"field": "m", "type": "nominal", "sort": null, "axis": {"orient": "right", "title": null, "ticks": false, "domain": false, "labelPadding": 3, "labelFontSize": 7.2, "labelLimit": 400}},
         "color": {"field": "v", "type": "quantitative", "scale": {"domain": [-1.7,-1.35,-0.9,-0.4,0,0.45,0.95,1.35,1.7], "range": ["#4575b4","#4c7cba","#7199cb","#b3cde5","#f4f9f3","#fad39e","#f4a06a","#e45c42","#d73027"]}, "legend": {"orient": "none", "legendX": 243, "legendY": 13, "title": null, "direction": "vertical", "gradientLength": 105, "gradientThickness": 7, "values": [-1.5,-1,-0.5,0,0.5,1,1.5], "format": ".1~f", "labelFontSize": 6.5, "labelOverlap": false, "gradientStrokeWidth": 0}}
        }
       },
       {
        "transform": [{"filter": "datum.s == 'MB1'"}],
        "mark": {"type": "rect"},
        "encoding": {
         "x": {"datum": "class", "bandPosition": 0.64},
         "x2": {"datum": "class", "bandPosition": 0.84},
         "y": {"field": "m", "type": "nominal", "sort": null},
         "fill": {"field": "c", "type": "nominal", "scale": {"domain": ["Alkaloids","Flavonoids","Coumarins","Lipids","Terpenoids","Organoheterocyclic|compounds","Benzenoids","Organooxygen|compounds","Nucleotide and|its derivates","Amino acid and|derivatives","others"], "range": ["#f8958a","#c9bb00","#f2a0f0","#b4a8f8","#d97b3e","#1ad58e","#f0e31a","#15c9f5","#10d8df","#f97ddc","#f5a900"]}, "legend": null}
        }
       },
       {
        "transform": [{"filter": "datum.s == 'MB1' && indexof(['Peonidin-3-glucoside','Deoxyadenosine','D-alpha-Aminobutyric acid','3-(3,4-Dihydroxy-5-methoxy)-2-propenoic acid'], datum.m) >= 0"}],
        "mark": {"type": "text", "align": "right", "baseline": "middle", "fontSize": 7.4, "lineBreak": "|", "lineHeight": 9},
        "encoding": {
         "x": {"datum": "class", "bandPosition": 0.45},
         "y": {"field": "m", "type": "nominal", "sort": null, "bandPosition": 0},
         "text": {"field": "c", "type": "nominal"}
        }
       },
       {
        "transform": [{"filter": "datum.s == 'MB1' && indexof(['Mirtazapine','Scoparone','Norbixin','Parthenolide','Furan-3-carboxylic acid','Ethyl 3,4,5-trimethoxybenzoate','Galactinol'], datum.m) >= 0"}],
        "mark": {"type": "text", "align": "right", "baseline": "middle", "fontSize": 7.4, "lineBreak": "|", "lineHeight": 9},
        "encoding": {
         "x": {"datum": "class", "bandPosition": 0.45},
         "y": {"field": "m", "type": "nominal", "sort": null, "bandPosition": 0.5},
         "text": {"field": "c", "type": "nominal"}
        }
       }
      ]
     }
    }
   ]
  }
 ]
}
